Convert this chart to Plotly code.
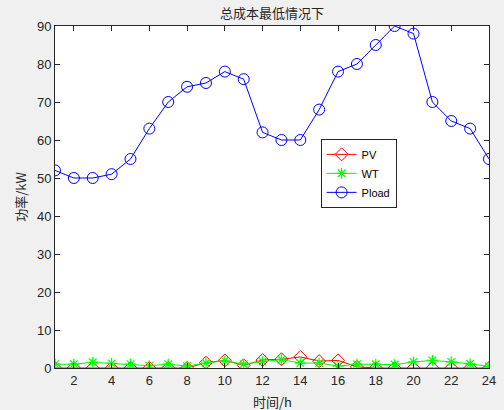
import plotly.graph_objects as go

hours = list(range(1, 25))
pv = [0, 0, 0, 0, 0, 0, 0, 0, 1.4, 2.0, 0.7, 2.1, 2.3, 2.9, 1.8, 2.0, 0.3, 0, 0, 0, 0, 0, 0, 0]
wt = [1.0, 1.0, 1.5, 1.2, 1.0, 0.6, 1.0, 0.5, 1.3, 1.9, 1.0, 1.7, 2.2, 1.3, 1.3, 0.5, 1.0, 1.0, 0.9, 1.6, 2.0, 1.6, 1.1, 0.4]
pload = [52, 50, 50, 51, 55, 63, 70, 74, 75, 78, 76, 62, 60, 60, 68, 78, 80, 85, 90, 88, 70, 65, 63, 55]
x_ticks = list(range(2, 25, 2))
y_ticks = list(range(0, 91, 10))

fig = go.Figure()
fig.add_trace(go.Scatter(x=hours, y=pv, name="PV", mode="lines+markers",
                         line=dict(color="#ff0000", width=1),
                         marker=dict(symbol="diamond-open", size=10, color="#ff0000", line=dict(width=1))))
fig.add_trace(go.Scatter(x=hours, y=wt, name="WT", mode="lines+markers",
                         line=dict(color="#00ff00", width=1),
                         marker=dict(symbol="asterisk-open", size=9, color="#00ff00", line=dict(width=1.2, color="#00ff00"))))
fig.add_trace(go.Scatter(x=hours, y=pload, name="Pload", mode="lines+markers",
                         line=dict(color="#0000ff", width=1),
                         marker=dict(symbol="circle-open", size=11, color="#0000ff", line=dict(width=1))))

axis_common = dict(showline=True, linecolor="#262626", linewidth=1, mirror="ticks",
                   ticks="inside", ticklen=5, tickcolor="#262626", showgrid=False, zeroline=False,
                   automargin=False,
                   tickfont=dict(family="Liberation Sans, Arial", size=13, color="#262626"))
fig.update_xaxes(range=[1, 24], tickvals=x_ticks, **axis_common)
fig.update_yaxes(range=[0, 90], tickvals=y_ticks, **axis_common)

title_font = dict(family="Noto Sans CJK SC", size=13, color="#262626")
fig.add_annotation(text="时间/h", xref="paper", yref="paper", x=0.5, y=-0.0965,
                   xanchor="center", yanchor="middle", showarrow=False, font=title_font)
fig.add_annotation(text="功率/kW", xref="paper", yref="paper", x=-0.081, y=0.5,
                   xanchor="center", yanchor="middle", textangle=-90, showarrow=False, font=title_font)

fig.update_layout(
    width=504, height=410,
    margin=dict(l=55, r=15, t=26, b=42),
    paper_bgcolor="#f0f0f0", plot_bgcolor="#ffffff",
    title=dict(text="总成本最低情况下", xref="paper", x=0.5, xanchor="center", y=0.966, yanchor="middle",
               font=title_font),
    legend=dict(x=0.612, y=0.67, xanchor="left", yanchor="top", bgcolor="#ffffff",
                bordercolor="#262626", borderwidth=1,
                font=dict(family="Liberation Sans, Arial", size=11, color="#000000"),
                tracegroupgap=0),
    showlegend=True,
)

fig.write_html("out.html", config={"displayModeBar": False},
               post_script="document.body.style.margin='0';")
